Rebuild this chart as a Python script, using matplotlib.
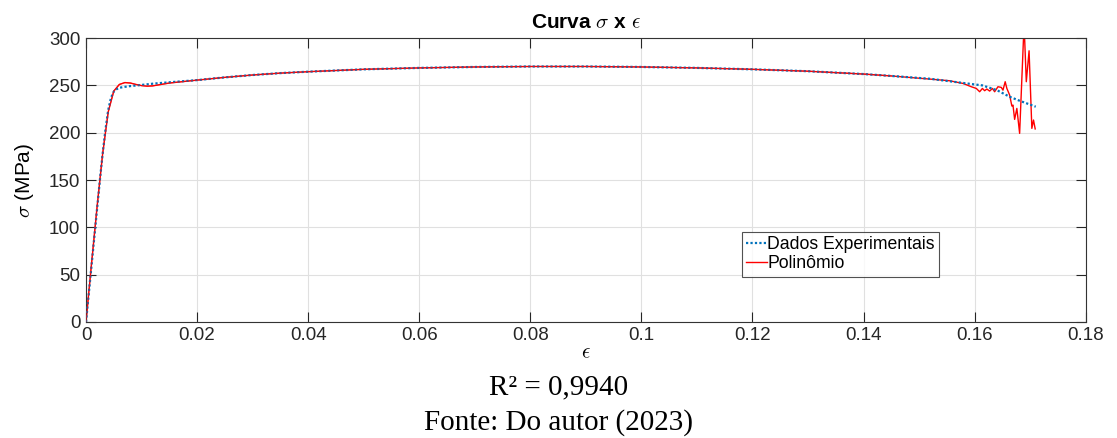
import matplotlib
matplotlib.use("Agg")
import matplotlib.pyplot as plt

eps_exp = [0, 0.0005, 0.001, 0.0015, 0.002, 0.0025, 0.003, 0.0035, 0.004, 0.0045,
           0.005, 0.0055, 0.006, 0.007, 0.008, 0.01, 0.012, 0.015, 0.02, 0.025,
           0.03, 0.035, 0.04, 0.05, 0.06, 0.07, 0.08, 0.09, 0.1, 0.11, 0.12,
           0.13, 0.14, 0.145, 0.152, 0.156, 0.1614, 0.164, 0.1663, 0.168, 0.171]
sig_exp = [0, 30, 60, 90, 120, 150, 178, 203, 224, 237, 243.5, 246, 247.5, 248.5,
           249.3, 250.5, 251.8, 253.3, 255.6, 258.5, 261, 263, 264.5, 267, 268.5,
           269.5, 270, 270, 269.5, 268.5, 267, 265, 262, 260, 257, 254, 250,
           245, 238, 234, 227.5]

# polinomio ajustado
eps_pol = [0, 0.001, 0.002, 0.003, 0.004, 0.005, 0.006, 0.007, 0.008, 0.009,
           0.01, 0.011, 0.012, 0.013, 0.015, 0.02, 0.025, 0.03, 0.035, 0.04,
           0.05, 0.06, 0.07, 0.08, 0.09, 0.1, 0.11, 0.12, 0.13, 0.14, 0.145,
           0.1519, 0.1555, 0.1579, 0.1594, 0.1603, 0.1609, 0.1614, 0.1618,
           0.1622, 0.1627, 0.1632, 0.1636, 0.1642, 0.1648, 0.1651, 0.1655,
           0.1658, 0.1663, 0.1667, 0.1669, 0.1672, 0.1676, 0.1681, 0.1689,
           0.1693, 0.1698, 0.1703, 0.1706, 0.1709]
sig_pol = [0, 62, 122, 178, 222, 244, 251, 253, 252.5, 251, 249.8, 249.2, 249.5,
           250.5, 252.5, 255.6, 258.5, 261, 263, 264.5, 267, 268.5, 269.5, 270,
           270, 269.5, 268.5, 267, 265, 262, 260, 256.7, 254.9, 252.1, 248.6,
           246.8, 243.3, 246.8, 244.4, 246.2, 244, 246.8, 243.3, 248.6, 247.9,
           245, 253.9, 246.8, 239.8, 228.2, 229.2, 214.1, 225.7, 199.3, 315,
           253.9, 286.6, 204.6, 213.4, 204]

xticks = [0, 0.02, 0.04, 0.06, 0.08, 0.1, 0.12, 0.14, 0.16, 0.18]
xticklabels = ['0', '0.02', '0.04', '0.06', '0.08', '0.1', '0.12', '0.14', '0.16', '0.18']
yticks = [0, 50, 100, 150, 200, 250, 300]

plt.rcParams['font.family'] = ['Liberation Sans', 'DejaVu Sans']
plt.rcParams['mathtext.fontset'] = 'cm'

fig = plt.figure(figsize=(11.17, 4.38), dpi=100)
ax = fig.add_axes([0.077, 0.265, 0.895, 0.648])

ax.plot(eps_pol, sig_pol, '-', color='red', lw=1.0, label='Polinômio', zorder=2)
ax.plot(eps_exp, sig_exp, linestyle=(0, (1, 1)), color=(0, 0.447, 0.741), lw=1.6,
        label='Dados Experimentais', zorder=3)
ax.plot(eps_pol[:31], sig_pol[:31], '-', color='red', lw=0.8, alpha=0.6, zorder=4)

ax.set_xlim(0, 0.18)
ax.set_ylim(0, 300)
ax.set_xticks(xticks)
ax.set_xticklabels(xticklabels)
ax.set_yticks(yticks)
ax.tick_params(direction='in', length=7, width=0.8, top=True, right=True,
               labelsize=13.5, colors='0.15', pad=4)
ax.grid(True, color='0.88', lw=0.8)
for s in ax.spines.values():
    s.set_color('0.2')
    s.set_linewidth(0.8)

ax.set_title(r'Curva $\sigma$ x $\epsilon$', fontsize=15, fontweight='bold', pad=7)
ax.set_xlabel(r'$\epsilon$', fontsize=15, labelpad=-1)
ax.set_ylabel(r'$\sigma$ (MPa)', fontsize=15, labelpad=9)

h, l = ax.get_legend_handles_labels()
leg = ax.legend(h[::-1], l[::-1], loc='lower left', bbox_to_anchor=(0.656, 0.16),
                fontsize=12.7, frameon=True, fancybox=False, handlelength=1.15,
                handletextpad=0.05, borderpad=0.25, labelspacing=0.1,
                borderaxespad=0)
leg.get_frame().set_edgecolor('0.15')
leg.get_frame().set_linewidth(0.8)

fig.text(0.5, 0.1, 'R² = 0,9940', ha='center', va='baseline', fontsize=21,
         family='Liberation Serif')
fig.text(0.5, 0.02, 'Fonte: Do autor (2023)', ha='center', va='baseline', fontsize=21,
         family='Liberation Serif')

fig.savefig('out.png', dpi=100)
